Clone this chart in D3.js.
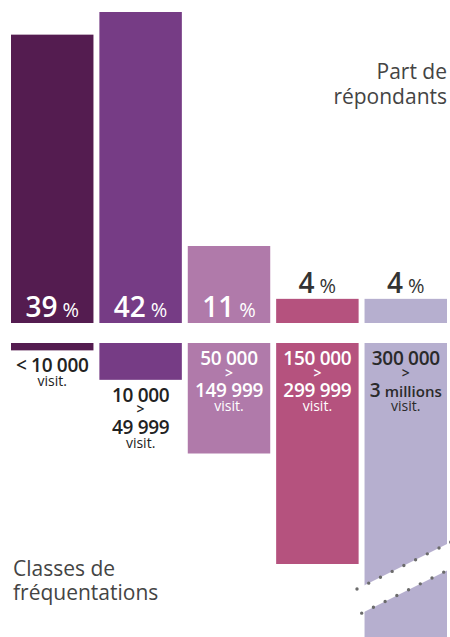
<html>
  <head>
    <meta charset="utf-8" />
    <script src="https://d3js.org/d3.v7.min.js"></script>
    <style>
      body {
        margin: 0;
        background: #fff;
      }
      text {
        font-family: "Open Sans", sans-serif;
      }
    </style>
  </head>
  <body>
    <svg id="chart" width="450" height="637"></svg>
    <script>
      // data
      const classes = ["c1", "c2", "c3", "c4", "c5"];
      const shares = [39, 42, 11, 4, 4];
      const upperBounds = [10000, 50000, 150000, 300000, 3000000];
      const classLabels = [
        ["< 10 000"],
        ["10 000", ">", "49 999"],
        ["50 000", ">", "149 999"],
        ["150 000", ">", "299 999"],
        ["300 000", ">", "3|millions"],
      ];
      const colors = ["#541c50", "#763c85", "#b07aaa", "#b5527e", "#b6afcf"];
      const labelColors = ["#222", "#222", "#fff", "#fff", "#2a2a2a"];

      const svg = d3.select("svg#chart");
      const width = +svg.attr("width");
      const height = +svg.attr("height");

      const x = d3
        .scaleBand()
        .domain(classes)
        .range([11, 447])
        .paddingInner(0.067);

      // top part: share of respondents
      const baseTop = 323;
      const yShare = d3.scaleLinear().domain([0.8, 42]).range([baseTop, 12]);

      // bottom part: size of class (visits)
      const baseBottom = 343;
      const yVisits = d3
        .scaleLinear()
        .domain([0, 300000])
        .range([baseBottom, 564]);

      const rows = classes.map((c, i) => ({
        c: c,
        share: shares[i],
        ub: upperBounds[i],
        lines: classLabels[i],
        color: colors[i],
        lc: labelColors[i],
      }));

      // top bars
      svg
        .selectAll("rect.share")
        .data(rows)
        .join("rect")
        .attr("class", "share")
        .attr("x", (d) => x(d.c))
        .attr("width", x.bandwidth())
        .attr("y", (d) => yShare(d.share))
        .attr("height", (d) => baseTop - yShare(d.share))
        .attr("fill", (d) => d.color);

      // percentage labels
      const pct = svg
        .selectAll("text.pct")
        .data(rows)
        .join("text")
        .attr("class", "pct")
        .attr("x", (d) => x(d.c) + x.bandwidth() / 2)
        .attr("y", (d) =>
          baseTop - yShare(d.share) > 40 ? baseTop - 6 : yShare(d.share) - 6
        )
        .attr("text-anchor", "middle")
        .attr("fill", (d) => (baseTop - yShare(d.share) > 40 ? "#fff" : "#333"));
      pct
        .append("tspan")
        .attr("font-size", 28)
        .attr("font-weight", 600)
        .text((d) => d.share);
      pct
        .append("tspan")
        .attr("font-size", 20)
        .attr("dx", 5)
        .text("%");

      // bottom bars (last one is cut)
      svg
        .selectAll("rect.visits")
        .data(rows)
        .join("rect")
        .attr("class", "visits")
        .attr("x", (d) => x(d.c))
        .attr("width", x.bandwidth())
        .attr("y", baseBottom)
        .attr("height", (d) => Math.min(yVisits(d.ub), height) - baseBottom)
        .attr("fill", (d) => d.color);

      // break on the last bar
      const last = rows[rows.length - 1];
      const bx0 = x(last.c) - 10;
      const bx1 = x(last.c) + x.bandwidth() + 4;
      const slope = -0.5;
      const upY = (xx) => 585 + slope * (xx - 365);
      const loY = (xx) => 611.5 + slope * (xx - 365);
      svg
        .append("polygon")
        .attr(
          "points",
          [
            [bx0, upY(bx0)],
            [bx1, upY(bx1)],
            [bx1, loY(bx1)],
            [bx0, loY(bx0)],
          ].join(" ")
        )
        .attr("fill", "#fff");
      const dotLine = (xa, xb, f) =>
        svg
          .append("line")
          .attr("x1", xa)
          .attr("y1", f(xa))
          .attr("x2", xb)
          .attr("y2", f(xb))
          .attr("stroke", "#6b6b6b")
          .attr("stroke-width", 3.4)
          .attr("stroke-linecap", "round")
          .attr("stroke-dasharray", "0 13.1");
      dotLine(357, 452, upY);
      dotLine(361.7, 452, loY);

      // class labels
      const lineDy = [0, 12.5, 32];
      rows.forEach((d) => {
        const h = yVisits(d.ub) - baseBottom;
        const inside = h > 80;
        const y0 = inside ? baseBottom + 22 : Math.min(yVisits(d.ub), height) + 22;
        const cx = x(d.c) + x.bandwidth() / 2;
        const g = svg.append("g").attr("fill", inside ? d.lc : "#222");
        d.lines.forEach((ln, j) => {
          const t = g
            .append("text")
            .attr("x", cx)
            .attr("y", y0 + lineDy[j])
            .attr("text-anchor", "middle")
            .attr("font-weight", 600);
          if (ln === ">") {
            t.attr("font-size", 14).text(ln);
          } else if (ln.includes("|")) {
            const p = ln.split("|");
            t.append("tspan").attr("font-size", 19).text(p[0]);
            t.append("tspan").attr("font-size", 15).attr("dx", 4).text(p[1]);
          } else {
            t.attr("font-size", 19).attr("letter-spacing", -0.3).text(ln);
          }
        });
        g.append("text")
          .attr("x", cx)
          .attr("y", y0 + (d.lines.length > 1 ? 46 : 14))
          .attr("text-anchor", "middle")
          .attr("font-size", 14)
          .text("visit.");
      });

      // annotations
      const note = svg
        .append("text")
        .attr("text-anchor", "end")
        .attr("fill", "#444")
        .attr("font-size", 21);
      note.append("tspan").attr("x", 447).attr("y", 79).text("Part de");
      note.append("tspan").attr("x", 447).attr("y", 104).text("répondants");

      const note2 = svg
        .append("text")
        .attr("fill", "#444")
        .attr("font-size", 21);
      note2.append("tspan").attr("x", 13).attr("y", 576).text("Classes de");
      note2.append("tspan").attr("x", 13).attr("y", 600).text("fréquentations");
    </script>
  </body>
</html>
